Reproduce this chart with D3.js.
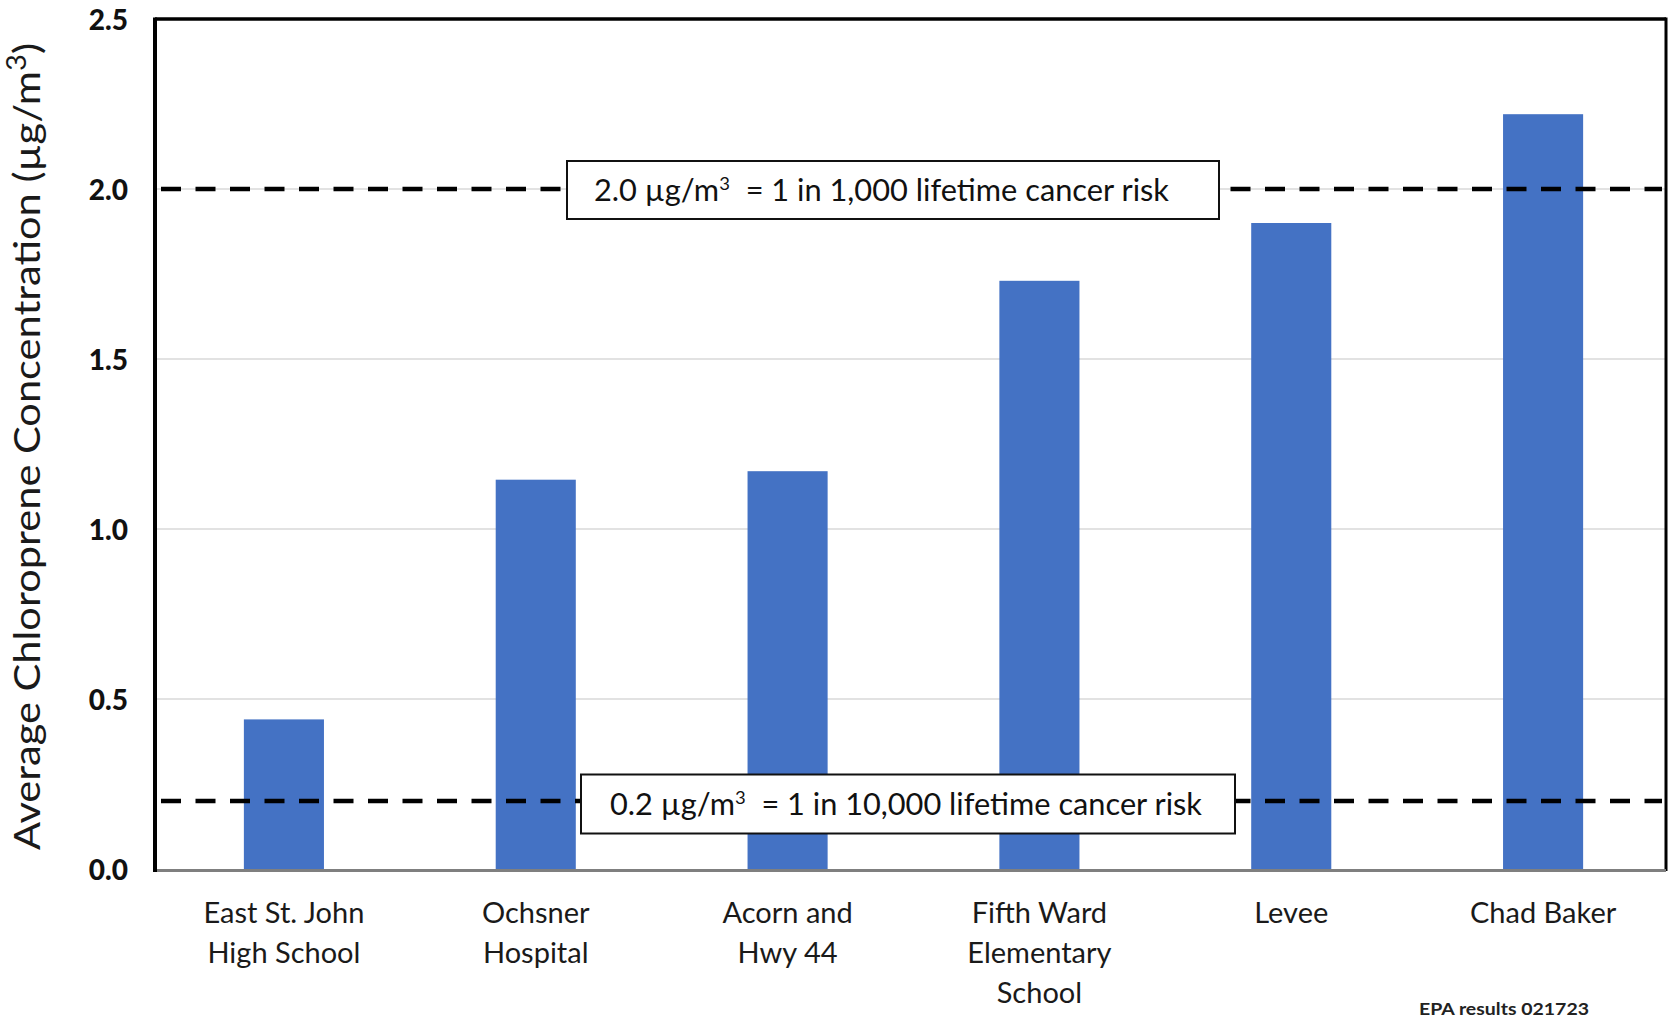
<!DOCTYPE html>
<html>
<head>
<meta charset="utf-8">
<script src="https://cdn.jsdelivr.net/npm/d3@7"></script>
<style>
  html, body { margin: 0; padding: 0; background: #fff; }
  svg { display: block; }
  text { font-family: Lato, "Open Sans", sans-serif; }
</style>
</head>
<body>
<svg id="chart" width="1669" height="1022"></svg>
<script>
// Monitoring sites and their average chloroprene concentrations (µg/m³)
const sites = [
  "East St. John\nHigh School",
  "Ochsner\nHospital",
  "Acorn and\nHwy 44",
  "Fifth Ward\nElementary\nSchool",
  "Levee",
  "Chad Baker"
];
const concentrations = [0.44, 1.145, 1.17, 1.73, 1.90, 2.22];

// y-axis ticks and labels
const yTicks = [0, 0.5, 1.0, 1.5, 2.0, 2.5];
const yTickLabels = ["0.0", "0.5", "1.0", "1.5", "2.0", "2.5"];

// Risk thresholds drawn as dashed reference lines
const thresholdValues = [2.0, 0.2];
const thresholdLabels = ["1 in 1,000 lifetime cancer risk", "1 in 10,000 lifetime cancer risk"];

const yTitle = "Average Chloroprene Concentration (µg/m";
const sourceNote = "EPA results 021723";

const svg = d3.select("#chart");
const m = { left: 155, right: 1666, top: 19, bottom: 869 };

const x = d3.scaleBand()
  .domain(sites)
  .range([m.left + 3, m.right + 3])
  .paddingInner(0.682)
  .paddingOuter(0.341);

const y = d3.scaleLinear()
  .domain([0, 2.5])
  .range([m.bottom, m.top]);

// horizontal gridlines
svg.append("g")
  .selectAll("line")
  .data(yTicks.filter(d => d > 0 && d < 2.5))
  .join("line")
  .attr("x1", m.left).attr("x2", m.right)
  .attr("y1", d => y(d)).attr("y2", d => y(d))
  .attr("stroke", "#d9d9d9")
  .attr("stroke-width", 1.5);

// bars
svg.append("g")
  .selectAll("rect")
  .data(concentrations)
  .join("rect")
  .attr("x", (d, i) => x(sites[i]))
  .attr("width", x.bandwidth())
  .attr("y", d => y(d))
  .attr("height", d => y(0) - y(d))
  .attr("fill", "#4472c4");

// dashed threshold lines
svg.append("g")
  .selectAll("line")
  .data(thresholdValues)
  .join("line")
  .attr("x1", m.left + 6).attr("x2", m.right - 4)
  .attr("y1", d => y(d)).attr("y2", d => y(d))
  .attr("stroke", "#000")
  .attr("stroke-width", 4.5)
  .attr("stroke-dasharray", "20 14.5");

// frame: top and right borders, black left axis, grey baseline
svg.append("line").attr("x1", m.left).attr("x2", m.right)
  .attr("y1", m.top).attr("y2", m.top)
  .attr("stroke", "#000").attr("stroke-width", 3.5);
svg.append("line").attr("x1", m.right).attr("x2", m.right)
  .attr("y1", m.top - 1.5).attr("y2", m.bottom + 2)
  .attr("stroke", "#000").attr("stroke-width", 3);
svg.append("line").attr("x1", m.left).attr("x2", m.right)
  .attr("y1", m.bottom + 1.5).attr("y2", m.bottom + 1.5)
  .attr("stroke", "#7f7f7f").attr("stroke-width", 3);

// y axis
const yAxis = d3.axisLeft(y)
  .tickValues(yTicks)
  .tickFormat((d, i) => yTickLabels[i])
  .tickSize(0)
  .tickPadding(27);
const gy = svg.append("g")
  .attr("transform", `translate(${m.left},0)`)
  .call(yAxis);
gy.select(".domain")
  .attr("d", `M0,${m.top - 1.5}V${m.bottom + 3}`)
  .attr("stroke", "#000").attr("stroke-width", 4);
gy.selectAll(".tick text")
  .attr("font-family", "Lato, sans-serif")
  .attr("font-size", 28)
  .attr("font-weight", 900)
  .attr("fill", "#111")
  .attr("dy", "0.36em");

// x axis category labels (multi-line)
const xAxis = d3.axisBottom(x).tickSize(0).tickFormat("");
const gx = svg.append("g")
  .attr("transform", `translate(0,${m.bottom})`)
  .call(xAxis);
gx.select(".domain").remove();
gx.selectAll(".tick").each(function(d) {
  const t = d3.select(this).append("text")
    .attr("text-anchor", "middle")
    .attr("font-family", "Lato, sans-serif")
    .attr("font-size", 29)
    .attr("fill", "#1a1a1a");
  d.split("\n").forEach((line, i) => {
    t.append("tspan").attr("x", 0).attr("y", 54 + i * 40).text(line);
  });
});

// threshold annotation boxes
const boxes = [
  { v: thresholdValues[0], x0: 567, x1: 1219, h: 58, value: "2.0", label: thresholdLabels[0], tx: 594, tw: 575 },
  { v: thresholdValues[1], x0: 581, x1: 1235, h: 59, value: "0.2", label: thresholdLabels[1], tx: 610, tw: 592 }
];
boxes.forEach(b => {
  const cy = y(b.v) + (b.v < 1 ? 3 : 1);
  svg.append("rect")
    .attr("x", b.x0).attr("y", cy - b.h / 2)
    .attr("width", b.x1 - b.x0).attr("height", b.h)
    .attr("fill", "#fff")
    .attr("stroke", "#111").attr("stroke-width", 2);
  const t = svg.append("text")
    .attr("x", b.tx).attr("y", cy + 11)
    .attr("font-family", "Lato, sans-serif")
    .attr("font-size", 30)
    .attr("fill", "#111")
    .attr("textLength", b.tw)
    .attr("lengthAdjust", "spacingAndGlyphs");
  t.append("tspan").text(b.value + " µg/m");
  t.append("tspan").attr("font-size", 18).attr("dy", -11).text("3");
  t.append("tspan").attr("dy", 11).text("\u00a0\u00a0= " + b.label);
});

// y axis title
const yt = svg.append("text")
  .attr("transform", `translate(40,${(43 + 850) / 2}) rotate(-90)`)
  .attr("text-anchor", "middle")
  .attr("font-family", "Lato, sans-serif")
  .attr("font-size", 37)
  .attr("fill", "#1a1a1a")
  .attr("textLength", 807)
  .attr("lengthAdjust", "spacingAndGlyphs");
yt.append("tspan").text(yTitle);
yt.append("tspan").attr("font-size", 26).attr("dy", -14).text("3");
yt.append("tspan").attr("dy", 14).text(")");

// source note
svg.append("text")
  .attr("x", 1419).attr("y", 1015)
  .attr("font-family", "Lato, sans-serif")
  .attr("font-size", 17)
  .attr("font-weight", 700)
  .attr("fill", "#222")
  .attr("textLength", 170)
  .attr("lengthAdjust", "spacingAndGlyphs")
  .text(sourceNote);
</script>
</body>
</html>
